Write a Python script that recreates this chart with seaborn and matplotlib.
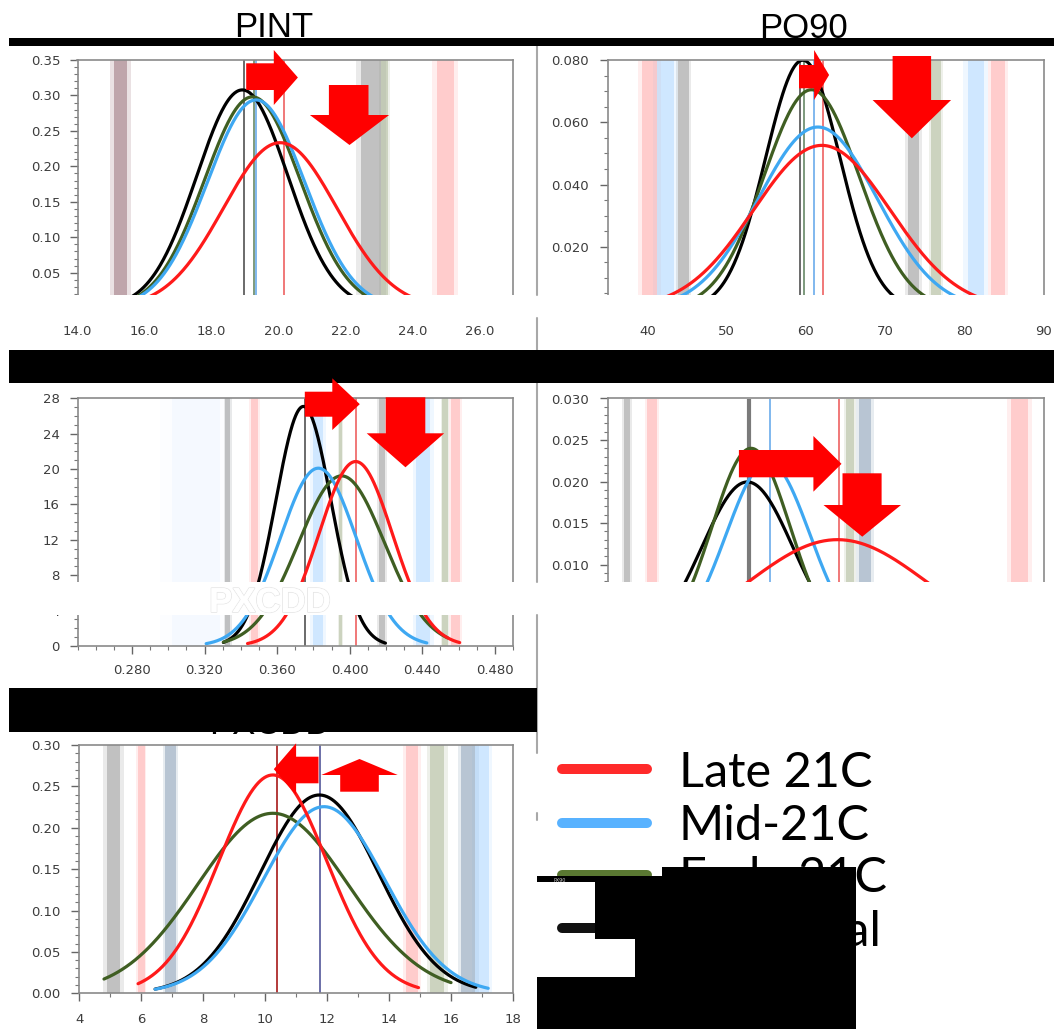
import numpy as np
import pandas as pd
import matplotlib
matplotlib.use("Agg")
import matplotlib.pyplot as plt
import seaborn as sns
from matplotlib.patches import Rectangle, Polygon
from matplotlib.lines import Line2D
from matplotlib.ticker import MultipleLocator, FormatStrFormatter
import matplotlib.patheffects as pe

W, H = 1054, 1029

PERIODS = ["Late 21C", "Mid-21C", "Early 21C", "Historical"]
DRAW_ORDER = ["Historical", "Early 21C", "Mid-21C", "Late 21C"]

# ---- PINT ----
PINT_MEAN = [20.05, 19.33, 19.22, 18.92]
PINT_SD = [1.69, 1.45, 1.43, 1.36]
PINT_PEAK = [0.2334, 0.2937, 0.298, 0.3078]
PINT_LO = [15.0, 15.0, 15.0, 15.0]
PINT_HI = [25.0, 24.0, 24.0, 23.0]
PINT_BANDS = [(15.08, 15.49, "m"), (22.46, 23.05, "k"), (23.05, 23.28, "g"), (24.72, 25.23, "r")]
PINT_LINES = [(18.97, "k"), (19.28, "g"), (19.34, "b"), (20.15, "r")]

# ---- PQ90 ----
PQ90_MEAN = [62.0, 61.5, 60.7, 59.6]
PQ90_SD = [8.6, 7.5, 6.0, 4.7]
PQ90_PEAK = [0.0526, 0.0585, 0.0705, 0.080]
PQ90_LO = [36.0, 38.0, 40.0, 42.0]
PQ90_HI = [90.0, 86.0, 82.0, 78.0]
PQ90_BANDS = [(39.3, 41.2, "r"), (41.2, 43.3, "b"), (43.9, 45.2, "k"), (72.85, 74.3, "k"),
              (75.8, 77.0, "g"), (80.4, 82.5, "b"), (83.4, 85.1, "r")]
PQ90_LINES = [(59.2, "k"), (59.75, "g"), (61.0, "b"), (62.1, "r")]

# ---- middle left panel ----
P3_MEAN = [0.4033, 0.3827, 0.3955, 0.3745]
P3_SD = [0.0203, 0.0210, 0.0237, 0.0152]
P3_PEAK = [20.85, 20.1, 19.23, 27.08]
P3_LO = [0.3437, 0.3209, 0.3304, 0.3304]
P3_HI = [0.4606, 0.4425, 0.4540, 0.4197]
P3_BANDS = [(0.3019, 0.3285, "p"), (0.3313, 0.3342, "k"), (0.3456, 0.3494, "r"), (0.3798, 0.3855, "b"),
            (0.3941, 0.3960, "g"), (0.4159, 0.4197, "k"), (0.4368, 0.4444, "b"), (0.4511, 0.4540, "g"),
            (0.4559, 0.4606, "r")]
P3_LINES = [(0.3751, "k"), (0.4036, "r")]

# ---- middle right panel ----
P4_MEAN = [92.2, 64.3, 57.5, 56.0]
P4_SD = [36.0, 16.9, 15.7, 18.3]
P4_PEAK = [0.0130, 0.0224, 0.0240, 0.01995]
P4_LO = [20.0, 10.0, 10.0, 5.0]
P4_HI = [165.0, 120.0, 110.0, 110.0]
P4_BANDS = [(6.3, 9.0, "k"), (15.7, 19.7, "r"), (95.5, 98.9, "g"), (100.9, 105.6, "s"), (162.0, 168.7, "r")]
P4_LINES = [(56.6, "K"), (64.9, "b"), (92.8, "r")]

# ---- PXCDD ----
P5_MEAN = [10.25, 11.9, 10.25, 11.75]
P5_SD = [1.74, 1.97, 2.42, 1.91]
P5_PEAK = [0.2638, 0.2255, 0.2175, 0.2396]
P5_LO = [5.9, 6.45, 4.8, 6.45]
P5_HI = [14.95, 17.2, 16.0, 16.8]
P5_BANDS = [(4.89, 5.33, "k"), (5.89, 6.11, "r"), (6.78, 7.11, "s"), (14.56, 14.94, "r"),
            (15.33, 15.78, "g"), (16.33, 16.78, "s"), (16.78, 17.22, "b")]
P5_LINES = [(10.39, "dr"), (11.78, "sb")]

CURVE_COLORS = {"Late 21C": "#ff1a1a", "Mid-21C": "#3ea8f2", "Early 21C": "#3f5e22", "Historical": "#000000"}
LEGEND_COLORS = {"Late 21C": "#ff2a2a", "Mid-21C": "#58b2ff", "Early 21C": "#5a7832", "Historical": "#111111"}
BAND_COLORS = {"r": ("#ff9a9a", 0.4), "b": ("#9fd0ff", 0.4), "g": ("#a3b08c", 0.45), "k": ("#8f8f8f", 0.45),
               "m": ("#8c5d68", 0.45), "s": ("#8aa0b8", 0.5), "p": ("#e2f0ff", 0.25)}
LINE_COLORS = {"r": "#f07878", "b": "#80b8ee", "g": "#7d9a7d", "k": "#6a6a6a", "K": "#7a7a7a",
               "dr": "#b33a3a", "sb": "#6b6fa8"}

sns.set_theme(style="white")
plt.rcParams["font.family"] = ["DejaVu Sans"]

fig = plt.figure(figsize=(W / 100, H / 100), dpi=100)
fig.patch.set_facecolor("white")


def fpt(px, py):
    return (px / W, 1 - py / H)


def draw_panel(rect, xlim, ylim, mean, sd, peak, lo, hi, bands, lines,
               xmaj, xmin, ymaj, ymin, xfmt, yfmt, xpad, ypad, xlabels=True):
    x0, y0, x1, y1 = rect
    ax = fig.add_axes([x0 / W, 1 - y1 / H, (x1 - x0) / W, (y1 - y0) / H])
    ax.set_facecolor("white")
    for b_lo, b_hi, key in bands:
        c, a = BAND_COLORS[key]
        # soft edge then core, the source bands look blurred
        pad = (b_hi - b_lo) * 0.25
        ax.axvspan(b_lo - pad, b_hi + pad, color=c, alpha=a * 0.4, lw=0, zorder=0.4)
        ax.axvspan(b_lo, b_hi, color=c, alpha=a, lw=0, zorder=0.5)
    for xv, key in lines:
        ax.axvline(xv, color=LINE_COLORS[key], lw=3 if key == "K" else 1.4, zorder=1)
    frames = []
    for p, m, s, a, l, h in zip(PERIODS, mean, sd, peak, lo, hi):
        xs = np.linspace(l, h, 400)
        frames.append(pd.DataFrame({"x": xs, "y": a * np.exp(-0.5 * ((xs - m) / s) ** 2), "period": p}))
    df = pd.concat(frames, ignore_index=True)
    sns.lineplot(data=df, x="x", y="y", hue="period", hue_order=DRAW_ORDER, palette=CURVE_COLORS,
                 estimator=None, sort=False, lw=2.3, legend=False, ax=ax, zorder=3)
    ax.set_xlim(*xlim)
    ax.set_ylim(*ylim)
    ax.set_xlabel("")
    ax.set_ylabel("")
    ax.xaxis.set_major_locator(MultipleLocator(xmaj))
    ax.xaxis.set_minor_locator(MultipleLocator(xmin))
    ax.yaxis.set_major_locator(MultipleLocator(ymaj))
    ax.yaxis.set_minor_locator(MultipleLocator(ymin))
    ax.xaxis.set_major_formatter(FormatStrFormatter(xfmt))
    ax.yaxis.set_major_formatter(FormatStrFormatter(yfmt))
    ax.tick_params(which="major", direction="out", length=5.8, width=1, color="#666",
                   labelsize=9.5, labelcolor="#3c3c3c", bottom=True, left=True)
    ax.tick_params(which="minor", direction="out", length=2.9, width=0.8, color="#777",
                   bottom=True, left=True)
    ax.tick_params(axis="x", which="major", pad=xpad, labelbottom=xlabels)
    ax.tick_params(axis="y", which="major", pad=ypad)
    for s in ax.spines.values():
        s.set_color("#8a8a8a")
        s.set_linewidth(1.2)
        s.set_zorder(4)
    return ax


draw_panel((77.5, 60.0, 513.0, 308.2), (14.0, 27.0), (0, 0.35), PINT_MEAN, PINT_SD, PINT_PEAK, PINT_LO,
           PINT_HI, PINT_BANDS, PINT_LINES, 2.0, 0.5, 0.05, 0.01, "%.1f", "%.2f", 6.0, 6.4)
draw_panel((607.9, 60.2, 1043.7, 308.9), (35, 90), (0, 0.08), PQ90_MEAN, PQ90_SD, PQ90_PEAK, PQ90_LO,
           PQ90_HI, PQ90_BANDS, PQ90_LINES, 10, 2, 0.02, 0.005, "%d", "%.3f", 5.5, 8.0)
draw_panel((77.5, 398.3, 513.0, 646.0), (0.25, 0.49), (0, 28), P3_MEAN, P3_SD, P3_PEAK, P3_LO,
           P3_HI, P3_BANDS, P3_LINES, 0.04, 0.01, 4, 1, "%.3f", "%d", 7.5, 7.2)
draw_panel((607.9, 398.5, 1043.7, 647.6), (0, 175), (0, 0.03), P4_MEAN, P4_SD, P4_PEAK, P4_LO,
           P4_HI, P4_BANDS, P4_LINES, 25, 5, 0.005, 0.001, "%d", "%.3f", 7.5, 8.0, xlabels=False)
draw_panel((79.2, 745.0, 513.0, 993.3), (4, 18), (0, 0.30), P5_MEAN, P5_SD, P5_PEAK, P5_LO,
           P5_HI, P5_BANDS, P5_LINES, 2, 1, 0.05, 0.01, "%d", "%.2f", 8.2, 7.5)


def rect(x0, y0, x1, y1, color, z):
    fig.add_artist(Rectangle(fpt(x0, y1), (x1 - x0) / W, (y1 - y0) / H, fc=color, ec="none",
                             transform=fig.transFigure, zorder=z))


# titles
fig.text(*fpt(273.8, 37.3), "PINT", ha="center", va="baseline", fontsize=25,
         family="Liberation Sans", color="black", zorder=5)
fig.text(*fpt(804.0, 37.3), "PQ90", ha="center", va="baseline", fontsize=25,
         family="Liberation Sans", color="black", zorder=5)
fig.text(*fpt(270.0, 734.0), "PXCDD", ha="center", va="baseline", fontsize=25,
         family="Liberation Sans", color="black", zorder=5)

# white masks
rect(0, 295.0, W, 318.3, "white", 3)
rect(0, 582.0, W, 615.0, "white", 3)
rect(538.5, 615.0, W, H, "white", 3)

ghost = fig.text(*fpt(270.0, 612.0), "PXCDD", ha="center", va="baseline", fontsize=25,
                 family="Liberation Sans", fontweight="bold", color="white", zorder=3.5)
ghost.set_path_effects([pe.withStroke(linewidth=1.2, foreground="#e6e6e6"), pe.Normal()])

# separator line
for ya, yb in [(45.7, 295.0), (318.3, 350.0), (383.3, 582.0), (615.0, 753.0), (813.0, 820.0)]:
    fig.add_artist(Line2D([537 / W, 537 / W], [1 - ya / H, 1 - yb / H], color="#a8a8a8", lw=1.5,
                          transform=fig.transFigure, zorder=4))

# black bars
rect(8.6, 38.3, W, 45.7, "black", 6)
rect(8.6, 350.0, W, 383.3, "black", 6)
rect(8.6, 688.3, 537.0, 731.7, "black", 6)

# legend
LEG_Y = [769.3, 822.7, 874.5, 928.3]
for p, ly in zip(PERIODS, LEG_Y):
    fig.add_artist(Line2D([561.7 / W, 647.0 / W], [1 - ly / H, 1 - ly / H], color=LEGEND_COLORS[p],
                          lw=7.2, solid_capstyle="round", transform=fig.transFigure, zorder=5))
    fig.text(*fpt(678.7, ly + 17.5), p, ha="left", va="baseline", fontsize=35, family="Lato",
             color="black", zorder=5)

# redaction blocks
for r in [(661.7, 867.3, 855.9, H), (536.7, 876.0, 661.7, 881.7), (595.0, 881.7, 661.7, 939.3),
          (635.0, 939.3, 661.7, 976.7), (536.7, 976.7, 855.9, H)]:
    rect(*r, "black", 8)
fig.text(*fpt(553.0, 881.0), "PX90", ha="left", va="center", fontsize=3.5, color="#cccccc", zorder=9)


# arrows
def harrow(x_tail, x_base, y0, y1, hy0, hy1, x_tip):
    pts = [(x_tail, y0), (x_base, y0), (x_base, hy0), (x_tip, (hy0 + hy1) / 2), (x_base, hy1),
           (x_base, y1), (x_tail, y1)]
    fig.add_artist(Polygon([fpt(*q) for q in pts], closed=True, fc="#ff0000", ec="none",
                           transform=fig.transFigure, zorder=7))


def varrow(y_tail, y_base, x0, x1, hx0, hx1, y_tip):
    pts = [(x0, y_tail), (x0, y_base), (hx0, y_base), ((hx0 + hx1) / 2, y_tip), (hx1, y_base),
           (x1, y_base), (x1, y_tail)]
    fig.add_artist(Polygon([fpt(*q) for q in pts], closed=True, fc="#ff0000", ec="none",
                           transform=fig.transFigure, zorder=7))


harrow(246.2, 273.8, 63.3, 90.0, 50.0, 105.0, 297.9)
varrow(85.0, 115.0, 328.9, 368.5, 309.9, 389.1, 145.0)
harrow(799.0, 814.1, 65.0, 88.3, 50.0, 100.0, 829.1)
varrow(56.0, 100.0, 892.6, 931.1, 872.6, 951.1, 138.3)
harrow(304.8, 332.3, 391.7, 416.7, 378.3, 430.0, 359.8)
varrow(397.3, 433.3, 385.7, 425.3, 366.7, 444.2, 467.3)
harrow(738.9, 813.4, 450.0, 477.3, 436.0, 491.7, 841.5)
varrow(473.3, 505.0, 842.5, 881.6, 823.5, 901.0, 536.7)
harrow(318.5, 296.1, 756.7, 783.3, 743.3, 795.0, 273.8)
varrow(791.7, 775.0, 340.2, 378.8, 321.3, 397.7, 759.0)

fig.savefig("out.png", dpi=100, facecolor="white")
